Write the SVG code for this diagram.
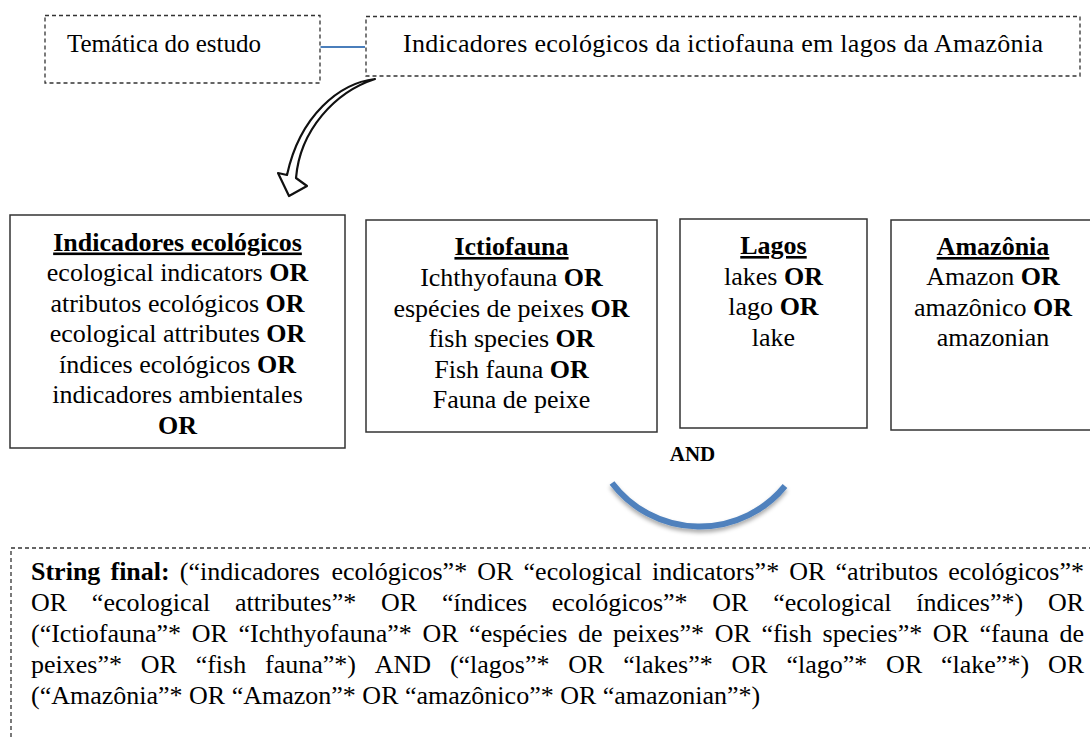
<svg xmlns="http://www.w3.org/2000/svg" width="1090" height="740" viewBox="0 0 1090 740">
<defs>
<style>
.t{font-family:'Liberation Serif',Tinos,'Times New Roman',Times,'DejaVu Serif',serif;font-size:26px;fill:#000}
.c{text-anchor:middle}
.b{font-weight:bold}
.u{font-weight:bold;text-decoration:underline}
.box{fill:#fff;stroke:#333;stroke-width:1.5}
.dash{fill:none;stroke:#333;stroke-width:1.3;stroke-dasharray:4 3}
</style>
<filter id="sh" x="-20%" y="-20%" width="140%" height="160%">
<feDropShadow dx="0" dy="3" stdDeviation="2" flood-color="#000" flood-opacity="0.35"/>
</filter>
</defs>
<rect width="1090" height="740" fill="#fff"/>
<g font-family="'Liberation Serif', Tinos, 'Times New Roman', Times, 'DejaVu Serif', serif">

<g id="node-tematica">
<rect class="dash" x="45" y="15.5" width="275" height="67.5"/>
<text class="t" x="67" y="52" style="font-size:25px">Temática do estudo</text>
</g>

<g id="node-titulo">
<rect class="dash" x="366" y="16.5" width="714" height="59.5"/>
<text class="t" x="403" y="52" textLength="640" lengthAdjust="spacing">Indicadores ecológicos da ictiofauna em lagos da Amazônia</text>
</g>

<g id="connectors">
<line x1="320.5" y1="47" x2="365" y2="47" stroke="#4a7ebb" stroke-width="2"/>
<path d="M375,79 C340,83 300,115 287,175 L278,173 L289,196 L307,186 L296,178 C300,130 335,92 375,79 Z" fill="#fff" stroke="#111" stroke-width="2.2" stroke-linejoin="round"/>
</g>

<g id="node-indicadores">
<rect class="box" x="10" y="215" width="335" height="233"/>
<text class="t c" x="177.5" y="250.5"><tspan class="u">Indicadores ecológicos</tspan></text>
<text class="t c" x="177.5" y="281">ecological indicators <tspan class="b">OR</tspan></text>
<text class="t c" x="177.5" y="311.5">atributos ecológicos <tspan class="b">OR</tspan></text>
<text class="t c" x="177.5" y="342">ecological attributes <tspan class="b">OR</tspan></text>
<text class="t c" x="177.5" y="372.5">índices ecológicos <tspan class="b">OR</tspan></text>
<text class="t c" x="177.5" y="403">indicadores ambientales</text>
<text class="t c b" x="177.5" y="434">OR</text>
</g>

<g id="node-ictiofauna">
<rect class="box" x="366" y="220" width="291" height="212"/>
<text class="t c" x="511.5" y="255"><tspan class="u">Ictiofauna</tspan></text>
<text class="t c" x="511.5" y="286">Ichthyofauna <tspan class="b">OR</tspan></text>
<text class="t c" x="511.5" y="316.5">espécies de peixes <tspan class="b">OR</tspan></text>
<text class="t c" x="511.5" y="347">fish species <tspan class="b">OR</tspan></text>
<text class="t c" x="511.5" y="377.5">Fish fauna <tspan class="b">OR</tspan></text>
<text class="t c" x="511.5" y="408">Fauna de peixe</text>
</g>

<g id="node-lagos">
<rect class="box" x="680" y="219" width="187" height="209"/>
<text class="t c" x="773.5" y="254"><tspan class="u">Lagos</tspan></text>
<text class="t c" x="773.5" y="284.5">lakes <tspan class="b">OR</tspan></text>
<text class="t c" x="773.5" y="315">lago <tspan class="b">OR</tspan></text>
<text class="t c" x="773.5" y="345.5">lake</text>
</g>

<g id="node-amazonia">
<rect class="box" x="891" y="220" width="210" height="210"/>
<text class="t c" x="993" y="255"><tspan class="u">Amazônia</tspan></text>
<text class="t c" x="993" y="285">Amazon <tspan class="b">OR</tspan></text>
<text class="t c" x="993" y="315.5">amazônico <tspan class="b">OR</tspan></text>
<text class="t c" x="993" y="346">amazonian</text>
</g>

<g id="and-joiner">
<text class="t c b" x="692.5" y="461" style="font-size:21px">AND</text>
<path d="M612,483 A110,110 0 0 0 785,486" fill="none" stroke="#4f81bd" stroke-width="6" filter="url(#sh)"/>
</g>

<g id="node-string">
<rect class="dash" x="11" y="548" width="1100" height="300"/>
<text class="t" y="580"><tspan x="31" class="b">String</tspan><tspan x="110.47" class="b">final:</tspan><tspan x="179.83">(“indicadores</tspan><tspan x="331.45">ecológicos”*</tspan><tspan x="477.33">OR</tspan><tspan x="523.57">“ecological</tspan><tspan x="652.10">indicators”*</tspan><tspan x="789.32">OR</tspan><tspan x="835.56">“atributos</tspan><tspan x="948.23">ecológicos”*</tspan></text>
<text class="t" y="611"><tspan x="31">OR</tspan><tspan x="91.85">“ecological</tspan><tspan x="234.99">attributes”*</tspan><tspan x="381.05">OR</tspan><tspan x="441.90">“índices</tspan><tspan x="551.84">ecológicos”*</tspan><tspan x="712.33">OR</tspan><tspan x="773.18">“ecological</tspan><tspan x="916.32">índices”*)</tspan><tspan x="1047.92">OR</tspan></text>
<text class="t" y="642"><tspan x="31">(“Ictiofauna”*</tspan><tspan x="191.77">OR</tspan><tspan x="238.5">“Ichthyofauna”*</tspan><tspan x="422.38">OR</tspan><tspan x="469.11">“espécies</tspan><tspan x="577.91">de</tspan><tspan x="613.07">peixes”*</tspan><tspan x="714.66">OR</tspan><tspan x="761.39">“fish</tspan><tspan x="822.55">species”*</tspan><tspan x="932.8">OR</tspan><tspan x="979.53">“fauna</tspan><tspan x="1059.44">de</tspan></text>
<text class="t" y="673"><tspan x="31">peixes”*</tspan><tspan x="140.77">OR</tspan><tspan x="195.68">“fish</tspan><tspan x="265.02">fauna”*)</tspan><tspan x="374.77">AND</tspan><tspan x="449.89">(“lagos”*</tspan><tspan x="568.32">OR</tspan><tspan x="623.23">“lakes”*</tspan><tspan x="731.55">OR</tspan><tspan x="786.46">“lago”*</tspan><tspan x="886.12">OR</tspan><tspan x="941.03">“lake”*)</tspan><tspan x="1047.89">OR</tspan></text>
<text class="t" x="31" y="704">(“Amazônia”* OR “Amazon”* OR “amazônico”* OR “amazonian”*)</text>
</g>
</g>
</svg>
